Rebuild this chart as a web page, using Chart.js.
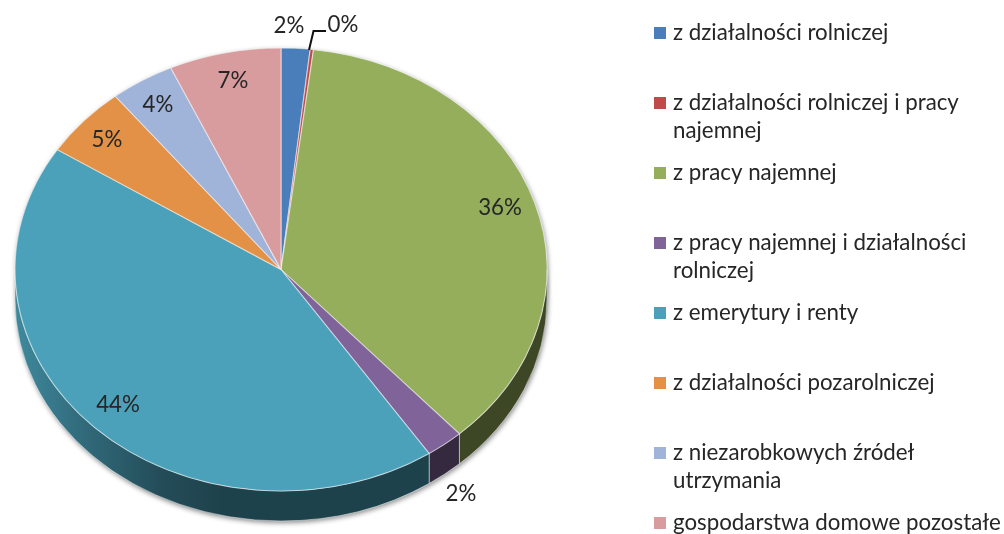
<!DOCTYPE html>
<html lang="pl">
<head>
<meta charset="utf-8">
<style>
html,body{margin:0;padding:0;background:#fff}
canvas{display:block;filter:blur(0.5px)}
</style>
<script src="https://cdn.jsdelivr.net/npm/chart.js@4"></script>
</head>
<body>
<canvas id="c" width="1004" height="534"></canvas>
<script>
const categories = [
  ["z działalności rolniczej"],
  ["z działalności rolniczej i pracy", "najemnej"],
  ["z pracy najemnej"],
  ["z pracy najemnej i działalności", "rolniczej"],
  ["z emerytury i renty"],
  ["z działalności pozarolniczej"],
  ["z niezarobkowych źródeł", "utrzymania"],
  ["gospodarstwa domowe pozostałe"]
];
const shares = [1.75, 0.2, 36.35, 2.3, 43.5, 5.2, 3.9, 6.8];
const sliceColors = [[74,126,187],[190,75,72],[148,174,92],[127,99,153],[74,161,185],[227,145,71],[160,179,216],[217,156,158]];

/* layout of the drawing, separate from the data */
const RX = 266, DEPTH = 30;
const labelAnchors = [[289,26],[343,25],[500,208],[461,494],[118,405],[107,140],[158,105],[233,81]];
const LEGEND = {swatchX:654, swatch:12, textX:673, firstY:33, step:70, lineStep:28, font:'22.3px Lato', color:'#262626'};
const rgb = (c,f=1)=>`rgb(${c.map(v=>Math.round(v*f)).join(',')})`;

const pie3d = {
  id:'pie3d',
  beforeDatasetsDraw(chart){
    const ctx = chart.ctx, arcs = chart.getDatasetMeta(0).data;
    const {x:cx,y:cy,outerRadius:ry} = arcs[0];
    // soft outer shadow of the solid
    ctx.save();
    ctx.shadowColor='rgba(0,0,0,0.45)'; ctx.shadowBlur=5; ctx.shadowOffsetX=1; ctx.shadowOffsetY=2;
    ctx.fillStyle='#ddd';
    ctx.beginPath(); ctx.ellipse(cx,cy+DEPTH,RX,ry,0,0,Math.PI*2); ctx.fill();
    ctx.beginPath(); ctx.ellipse(cx,cy,RX,ry,0,0,Math.PI*2); ctx.fill();
    ctx.restore();
    // front wall
    arcs.forEach((a,i)=>{
      const a0=Math.max(a.startAngle,0), a1=Math.min(a.endAngle,Math.PI);
      if(a1<=a0) return;
      const c=sliceColors[i];
      const g=ctx.createLinearGradient(cx-RX,0,cx-60,0);
      g.addColorStop(0,rgb(c,.85)); g.addColorStop(.3,rgb(c,.68)); g.addColorStop(.7,rgb(c,.48)); g.addColorStop(1,rgb(c,.41));
      ctx.beginPath();
      ctx.ellipse(cx,cy,RX,ry,0,a0,a1);
      ctx.ellipse(cx,cy+DEPTH,RX,ry,0,a1,a0,true);
      ctx.closePath();
      ctx.fillStyle=g; ctx.fill();
      ctx.strokeStyle='rgba(255,255,255,0.45)'; ctx.lineWidth=1; ctx.stroke();
    });
    // elliptical top: only the x axis is stretched
    ctx.save();
    ctx.translate(cx,cy); ctx.scale(RX/ry,1); ctx.translate(-cx,-cy);
  },
  afterDatasetsDraw(chart){
    const ctx = chart.ctx;
    ctx.restore();
    // leader line of the 0% label
    ctx.save();
    ctx.strokeStyle='#111'; ctx.lineWidth=2;
    ctx.beginPath(); ctx.moveTo(309,50); ctx.lineTo(313.5,31); ctx.lineTo(326,31); ctx.stroke();
    ctx.restore();
    // percent labels
    ctx.save();
    ctx.font=LEGEND.font; ctx.fillStyle=LEGEND.color; ctx.textAlign='center'; ctx.textBaseline='middle';
    chart.data.datasets[0].data.forEach((v,i)=>{
      ctx.fillText(Math.round(v)+'%',labelAnchors[i][0],labelAnchors[i][1]);
    });
    // legend
    ctx.textAlign='left';
    chart.data.labels.forEach((lines,i)=>{
      const y=LEGEND.firstY+i*LEGEND.step;
      ctx.fillStyle=rgb(sliceColors[i]);
      ctx.fillRect(LEGEND.swatchX,y-LEGEND.swatch/2,LEGEND.swatch,LEGEND.swatch);
      ctx.fillStyle=LEGEND.color;
      lines.forEach((t,k)=>ctx.fillText(t,LEGEND.textX,y+k*LEGEND.lineStep));
    });
    ctx.restore();
  }
};

new Chart(document.getElementById('c'),{
  type:'pie',
  data:{labels:categories,datasets:[{
    data:shares,
    clip:false,
    backgroundColor:sliceColors.map(c=>rgb(c)),
    borderColor:'rgba(255,255,255,0.5)',
    borderWidth:1
  }]},
  options:{
    responsive:false,animation:false,
    layout:{padding:{left:59,right:501,top:47.5,bottom:42.5}},
    plugins:{legend:{display:false},tooltip:{enabled:false},title:{display:false}}
  },
  plugins:[pie3d]
});
</script>
</body>
</html>
